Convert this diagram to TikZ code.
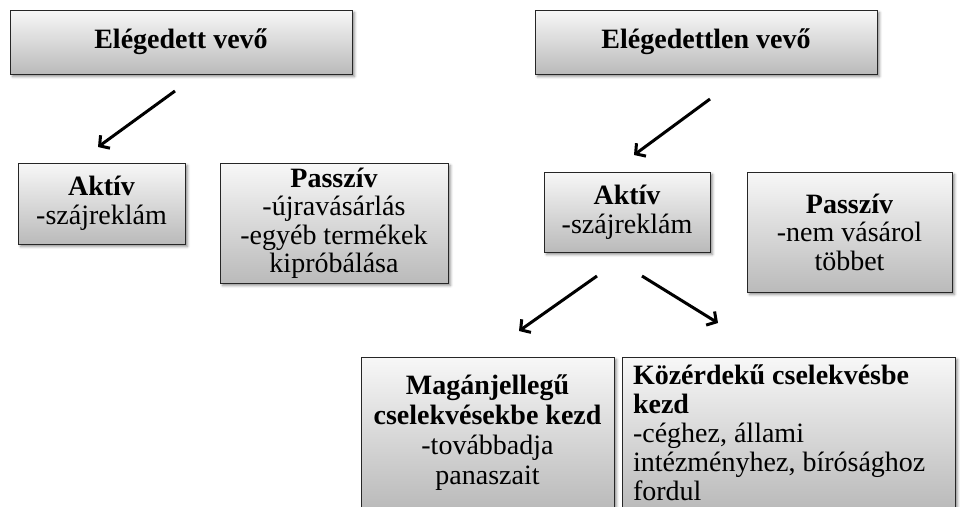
\documentclass[tikz,border=0pt]{standalone}
\usepackage{fontspec}
\setmainfont{Liberation Serif}
\usetikzlibrary{arrows.meta,shadows.blur}
\tikzset{
  kbox/.style={draw=black!85,line width=1pt,top color=black!3,bottom color=black!27,
    blur shadow={shadow xshift=2.5pt,shadow yshift=-2.5pt,shadow blur radius=2.5pt,shadow opacity=45},
    align=center,inner sep=0pt},
  nyil/.style={line width=3pt,-{Straight Barb[length=7pt,width=16pt]}}
}
\begin{document}
\begin{tikzpicture}[x=1pt,y=-1pt,font=\fontsize{28}{28.5}\selectfont]
\useasboundingbox (0,0) rectangle (960,506);
\clip (0,0) rectangle (960,506);
\node[kbox,minimum width=342pt,minimum height=64pt] (elegedett) at (181,42) {\textbf{Elégedett vevő}};
\node[kbox,minimum width=342pt,minimum height=64pt] (elegedettlen) at (706,42) {\textbf{Elégedettlen vevő}};
\node[kbox,minimum width=167pt,minimum height=81pt] (aktivA) at (101.5,203.5) {\textbf{Aktív}\\-szájreklám};
\node[kbox,minimum width=228pt,minimum height=120pt] (passzivA) at (334,223) {\textbf{Passzív}\\-újravásárlás\\-egyéb termékek\\kipróbálása};
\node[kbox,minimum width=166pt,minimum height=80pt] (aktivB) at (627,212) {\textbf{Aktív}\\-szájreklám};
\node[kbox,minimum width=205pt,minimum height=120pt] (passzivB) at (849.5,232) {\textbf{Passzív}\\-nem vásárol\\többet};
\node[kbox,minimum width=253pt,minimum height=152pt,font=\fontsize{28}{30}\selectfont] (magan) at (487.5,433) {\textbf{Magánjellegű}\\\textbf{cselekvésekbe kezd}\\-továbbadja\\panaszait};
\node[kbox,minimum width=333pt,minimum height=152pt,text width=311pt,align=flush left,font=\fontsize{28}{29}\selectfont] (kozerdeku) at (788.5,433) {\textbf{Közérdekű cselekvésbe}\\\textbf{kezd}\\-céghez, állami\\intézményhez, bírósághoz\\fordul};
\coordinate (n1a) at (175,91);
\coordinate (n1b) at (98,147);
\coordinate (n2a) at (710,99);
\coordinate (n2b) at (634,155);
\coordinate (n3a) at (597,276);
\coordinate (n3b) at (519,331);
\coordinate (n4a) at (642,276);
\coordinate (n4b) at (718,323);
\draw[nyil] (n1a)--(n1b);
\draw[nyil] (n2a)--(n2b);
\draw[nyil] (n3a)--(n3b);
\draw[nyil] (n4a)--(n4b);
\end{tikzpicture}
\end{document}
